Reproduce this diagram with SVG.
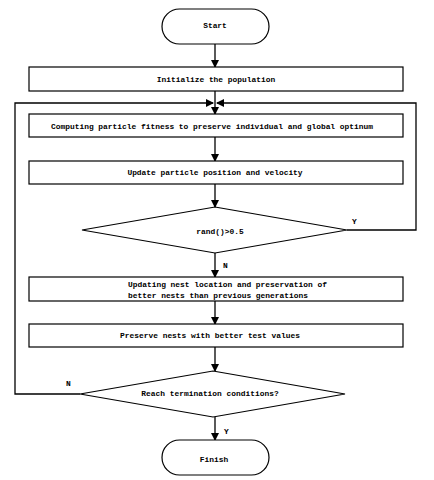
<svg xmlns="http://www.w3.org/2000/svg" width="434" height="480" viewBox="0 0 434 480">
<style>
.box{fill:#fff;stroke:#000;stroke-width:1.2}
.ln{fill:none;stroke:#000;stroke-width:1.3}
text{font-family:"Liberation Mono",monospace;font-size:7.9px;font-weight:bold;fill:#000}
.c{text-anchor:middle}
</style>
<defs>
<marker id="ah" markerWidth="8" markerHeight="8" refX="7" refY="4" orient="auto" markerUnits="userSpaceOnUse">
<path d="M0,0 L8,4 L0,8 Z" fill="#000"/>
</marker>
</defs>
<rect width="434" height="480" fill="#fff"/>
<g id="connectors">
<line class="ln" x1="215" y1="44" x2="215" y2="67" marker-end="url(#ah)"/>
<line class="ln" x1="215" y1="91" x2="215" y2="114" marker-end="url(#ah)"/>
<line class="ln" x1="215" y1="137" x2="215" y2="161" marker-end="url(#ah)"/>
<line class="ln" x1="215" y1="184" x2="215" y2="207" marker-end="url(#ah)"/>
<line class="ln" x1="215" y1="253" x2="215" y2="277" marker-end="url(#ah)"/>
<line class="ln" x1="215" y1="301" x2="215" y2="324" marker-end="url(#ah)"/>
<line class="ln" x1="215" y1="347" x2="215" y2="371" marker-end="url(#ah)"/>
<line class="ln" x1="215" y1="417" x2="215" y2="440" marker-end="url(#ah)"/>
<polyline class="ln" points="347,230 416,230 416,103 217,103" marker-end="url(#ah)"/>
<polyline class="ln" points="80,394 15,394 15,103 213,103" marker-end="url(#ah)"/>
<text x="352" y="224">Y</text>
<text x="223" y="268">N</text>
<text x="66" y="386">N</text>
<text x="224" y="434">Y</text>
</g>
<g id="start">
<rect class="box" x="162" y="9" width="107" height="35" rx="17.5"/>
<text class="c" x="215" y="28">Start</text>
</g>
<g id="init">
<rect class="box" x="29" y="67" width="374" height="24"/>
<text class="c" x="216" y="82">Initialize the population</text>
</g>
<g id="compute">
<rect class="box" x="29" y="114" width="374" height="23"/>
<text class="c" x="212" y="129">Computing particle fitness to preserve individual and global optinum</text>
</g>
<g id="update">
<rect class="box" x="29" y="161" width="374" height="23"/>
<text class="c" x="215" y="175">Update particle position and velocity</text>
</g>
<g id="rand">
<polygon class="box" points="215,207 347,230 215,253 82,230"/>
<text class="c" x="220" y="234">rand()&gt;0.5</text>
</g>
<g id="nest">
<rect class="box" x="29" y="277" width="374" height="24"/>
<text x="128" y="287">Updating nest location and preservation of</text>
<text x="128" y="298">better nests than previous generations</text>
</g>
<g id="preserve">
<rect class="box" x="29" y="324" width="374" height="23"/>
<text class="c" x="210" y="338">Preserve nests with better test values</text>
</g>
<g id="reach">
<polygon class="box" points="213,371 345,394 213,417 80,394"/>
<text class="c" x="210" y="396">Reach termination conditions?</text>
</g>
<g id="finish">
<rect class="box" x="162" y="440" width="107" height="35" rx="17.5"/>
<text class="c" x="214" y="462">Finish</text>
</g>
</svg>
